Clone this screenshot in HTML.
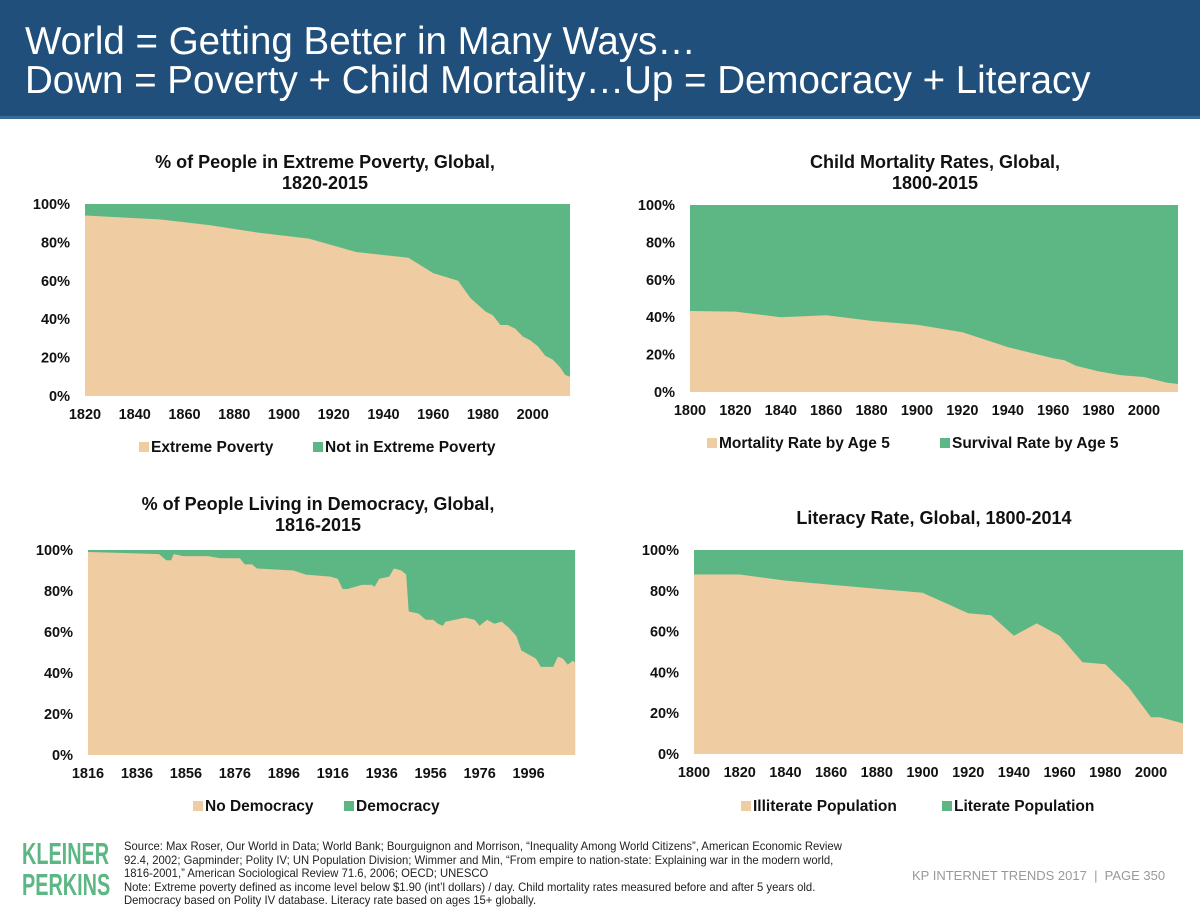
<!DOCTYPE html>
<html><head><meta charset="utf-8">
<style>
body{margin:0;width:1200px;height:913px;background:#fff;font-family:"Liberation Sans",Arial,sans-serif;overflow:hidden;position:relative}
#hdr{position:absolute;left:0;top:0;width:1200px;height:116px;background:#214f7b;border-bottom:3px solid #3a6a96}
#hdr div{position:absolute;left:25px;color:#fff;font-size:38.5px;white-space:nowrap}
svg{position:absolute;left:0;top:0}
.t{font-weight:bold;font-size:18px;fill:#111;text-anchor:middle}
.tk{font-weight:bold;font-size:14.5px;fill:#111}
.lg{font-weight:bold;font-size:15.5px;fill:#111}
#logo{position:absolute;left:22px;top:838px;color:#5db784;font-weight:bold;font-size:31px;line-height:31px;transform:scaleX(0.64);transform-origin:left top}
#src{position:absolute;left:124px;top:840px;font-size:12px;line-height:13.6px;color:#222;white-space:nowrap;transform:scaleX(0.94);transform-origin:left top}
#pg{position:absolute;left:912px;top:868px;font-size:13px;color:#999}
</style></head><body>
<div id="hdr">
<div style="top:20px">World = Getting Better in Many Ways…</div>
<div style="top:59px">Down = Poverty + Child Mortality…Up = Democracy + Literacy</div>
</div>
<svg id="s" width="1200" height="913"></svg>
<div id="logo">KLEINER<br>PERKINS</div>
<div id="src">Source: Max Roser, Our World in Data; World Bank; Bourguignon and Morrison, “Inequality Among World Citizens”, American Economic Review<br>92.4, 2002; Gapminder; Polity IV; UN Population Division; Wimmer and Min, “From empire to nation-state: Explaining war in the modern world,<br>1816-2001,” American Sociological Review 71.6, 2006; OECD; UNESCO<br>Note: Extreme poverty defined as income level below $1.90 (int’l dollars) / day. Child mortality rates measured before and after 5 years old.<br>Democracy based on Polity IV database. Literacy rate based on ages 15+ globally.</div>
<div id="pg">KP INTERNET TRENDS 2017 &nbsp;|&nbsp; PAGE 350</div>
<script>
const povYears=[1820,1850,1870,1890,1910,1929,1950,1960,1970,1975,1981,1984,1987,1990,1993,1996,1999,2002,2005,2008,2011,2013,2015];
const povValues=[94,92,89,85,82,75,72,64,60,51,44,42,37,37,35,31,29,26,21,19,15,11,10];
const povTicks=[1820,1840,1860,1880,1900,1920,1940,1960,1980,2000];
const morYears=[1800,1820,1840,1860,1880,1900,1920,1930,1940,1950,1960,1965,1970,1980,1990,2000,2010,2015];
const morValues=[43.3,43,40,41,38,36,32,28,24,21,18,17,14,11,9,8,5,4.3];
const morTicks=[1800,1820,1840,1860,1880,1900,1920,1940,1960,1980,2000];
const demYears=[1816,1845,1848,1850,1851,1855,1865,1870,1878,1880,1883,1885,1900,1905,1915,1918,1920,1922,1925,1928,1932,1933,1935,1939,1941,1944,1946,1947,1951,1954,1957,1959,1961,1962,1966,1970,1974,1976,1979,1982,1985,1988,1991,1993,1996,1999,2001,2006,2008,2010,2012,2014,2015];
const demValues=[99,98,95,95,98,97,97,96,96,93,93,91,90,88,87,86,81,81,82,83,83,82,86,87,91,90,88,70,69,66,66,64,63,65,66,67,66,63,66,64,65,62,58,51,49,47,43,43,48,47,44,46,45];
const demTicks=[1816,1836,1856,1876,1896,1916,1936,1956,1976,1996];
const litYears=[1800,1820,1840,1860,1880,1900,1910,1920,1930,1940,1950,1960,1970,1980,1990,2000,2004,2014];
const litValues=[88,88,85,83,81,79,74,69,68,58,64,58,45,44,33,18,18,15];
const litTicks=[1800,1820,1840,1860,1880,1900,1920,1940,1960,1980,2000];
const pctTicks=[0,20,40,60,80,100];
const NS="http://www.w3.org/2000/svg",S=document.getElementById('s');
function el(t,a,p){const e=document.createElementNS(NS,t);for(const k in a)e.setAttribute(k,a[k]);(p||S).appendChild(e);return e;}
function chart(c){
 const g=el('g',{});
 
 
 const x=v=>c.x0+(v-c.d0)/(c.d1-c.d0)*(c.x1-c.x0);
 const y=v=>c.y1-(v/100)*(c.y1-c.y0);
 const top=el('rect',{x:x(c.years[0]),y:c.y0,width:x(c.years[c.years.length-1])-x(c.years[0]),height:c.y1-c.y0,fill:'#5db784'},g);
 
 
 let d='M'+x(c.years[0])+','+y(0);
 c.years.forEach((yr,i)=>d+='L'+x(yr).toFixed(1)+','+y(c.vals[i]).toFixed(1));
 d+='L'+x(c.years[c.years.length-1])+','+y(0)+'Z';
 const a=el('path',{d:d,fill:'#f0cca2'},g);
 
 
 pctTicks.forEach(p=>{const t=el('text',{x:c.x0-15,y:y(p)+5,'text-anchor':'end',class:'tk'},g);t.textContent=p+'%';
  
  });
 c.ticks.forEach(v=>{const t=el('text',{x:x(v),y:c.y1+23,'text-anchor':'middle',class:'tk'},g);t.textContent=v;
  
  });
 c.title.forEach((l,i)=>{const t=el('text',{x:c.tx,y:c.ty+i*21,class:'t'},g);t.textContent=l;
  
  });
 [[c.s1,'#f0cca2',c.l1],[c.s2,'#5db784',c.l2]].forEach(([n,col,lx])=>{
  const r=el('rect',{x:lx,y:c.ly-10,width:10,height:10,fill:col},g);
  
  
  const t=el('text',{x:lx+12,y:c.ly,class:'lg'},g);t.textContent=n;
  
  });
}
chart({name:'poverty-chart',years:povYears,vals:povValues,ticks:povTicks,d0:1820,d1:2017,x0:85,x1:575,y0:204,y1:396,title:['% of People in Extreme Poverty, Global,','1820-2015'],tx:325,ty:168,s1:'Extreme Poverty',s2:'Not in Extreme Poverty',l1:139,l2:313,ly:452});
chart({name:'mortality-chart',years:morYears,vals:morValues,ticks:morTicks,d0:1800,d1:2015,x0:690,x1:1178,y0:205,y1:392,title:['Child Mortality Rates, Global,','1800-2015'],tx:935,ty:168,s1:'Mortality Rate by Age 5',s2:'Survival Rate by Age 5',l1:707,l2:940,ly:448});
chart({name:'democracy-chart',years:demYears,vals:demValues,ticks:demTicks,d0:1816,d1:2017,x0:88,x1:580,y0:550,y1:755,title:['% of People Living in Democracy, Global,','1816-2015'],tx:318,ty:510,s1:'No Democracy',s2:'Democracy',l1:193,l2:344,ly:811});
chart({name:'literacy-chart',years:litYears,vals:litValues,ticks:litTicks,d0:1800,d1:2014,x0:694,x1:1183,y0:550,y1:754,title:['Literacy Rate, Global, 1800-2014'],tx:934,ty:524,s1:'Illiterate Population',s2:'Literate Population',l1:741,l2:942,ly:811});
</script>
</body></html>
